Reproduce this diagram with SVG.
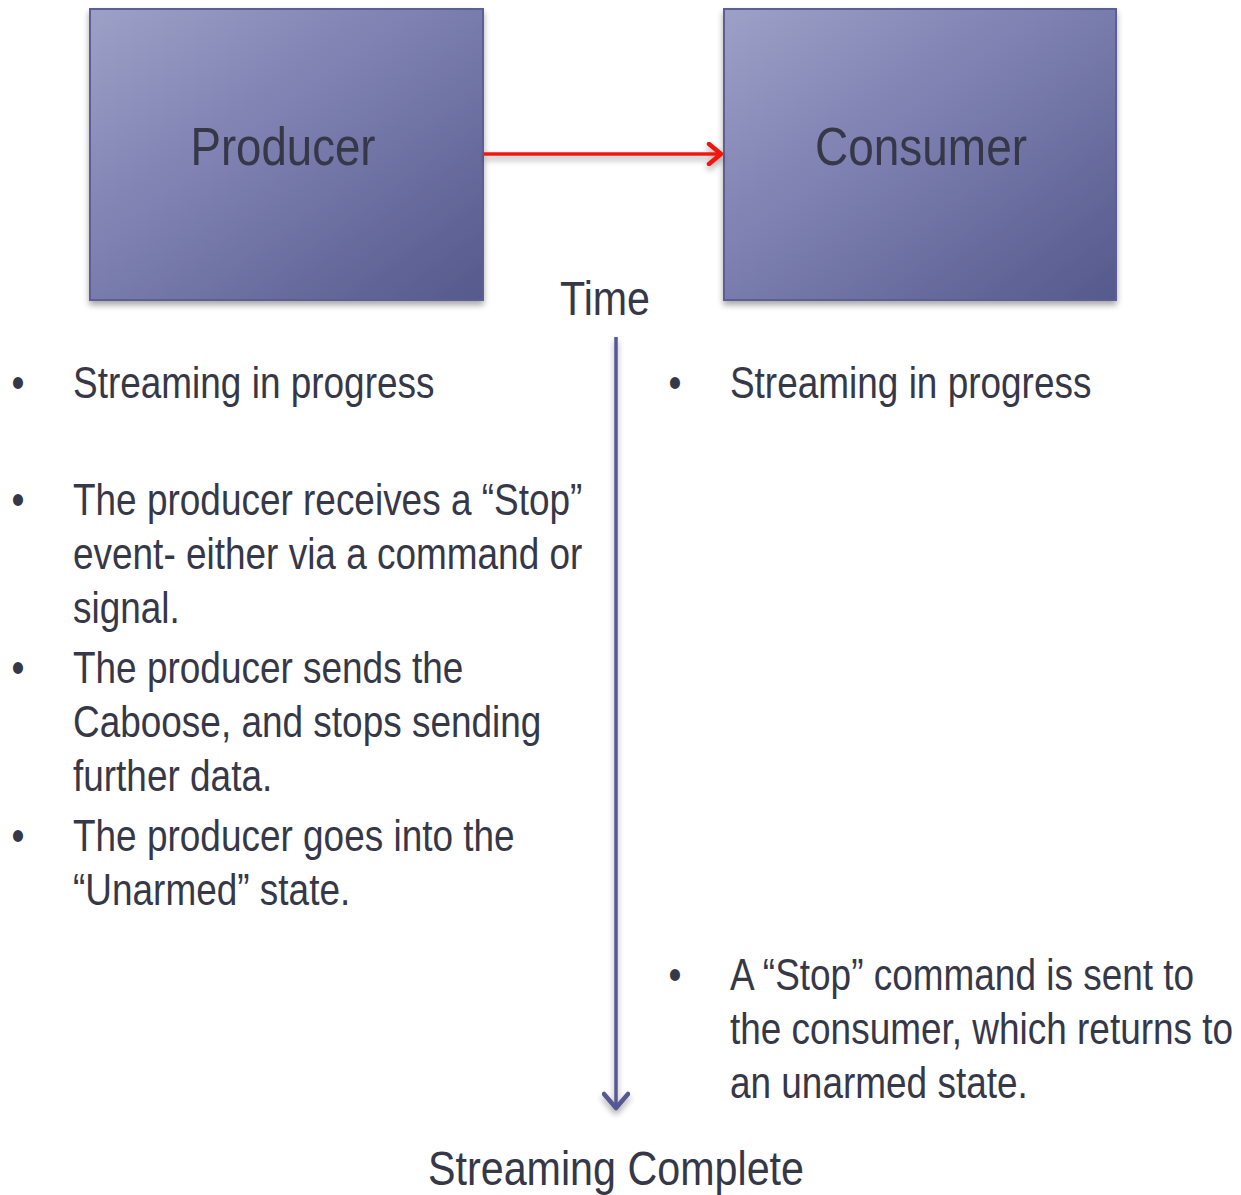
<svg xmlns="http://www.w3.org/2000/svg" width="1241" height="1195" viewBox="0 0 1241 1195">
<defs>
<linearGradient id="boxg" x1="0" y1="0" x2="1" y2="1">
<stop offset="0" stop-color="#9da0c6"/>
<stop offset="0.45" stop-color="#7c7fb0"/>
<stop offset="1" stop-color="#55598b"/>
</linearGradient>
<filter id="sh" filterUnits="userSpaceOnUse" x="0" y="0" width="1241" height="1195">
<feGaussianBlur in="SourceAlpha" stdDeviation="3"/>
<feOffset dx="0" dy="4" result="b"/>
<feComponentTransfer><feFuncA type="linear" slope="0.35"/></feComponentTransfer>
<feMerge><feMergeNode/><feMergeNode in="SourceGraphic"/></feMerge>
</filter>
<marker id="redhead" viewBox="0 0 20 24" refX="17" refY="12" markerWidth="20" markerHeight="24" markerUnits="userSpaceOnUse" orient="auto">
<path d="M5,2 L17,12 L5,22" fill="none" stroke="#f0180e" stroke-width="4.5" stroke-linecap="round" stroke-linejoin="round"/>
</marker>
<marker id="bluehead" viewBox="0 0 22 28" refX="18" refY="14" markerWidth="22" markerHeight="28" markerUnits="userSpaceOnUse" orient="auto">
<path d="M4,2 L18,14 L4,26" fill="none" stroke="#545893" stroke-width="4.5" stroke-linecap="round" stroke-linejoin="round"/>
</marker>
</defs>
<style>
.box{fill:url(#boxg);stroke:#5b5f96;stroke-width:2}
.lbl{font-family:"Liberation Sans",Arial,sans-serif;font-size:53px;fill:#363848;text-anchor:middle}
.t{font-family:"Liberation Sans",Arial,sans-serif;font-size:44px;fill:#363848}
.mid{text-anchor:middle}
</style>
<rect width="1241" height="1195" fill="#ffffff"/>
<g id="producer">
<rect class="box" x="90" y="9" width="393" height="291" filter="url(#sh)"/>
<text class="lbl" x="283" y="165" textLength="185" lengthAdjust="spacingAndGlyphs">Producer</text>
</g>
<g id="consumer">
<rect class="box" x="724" y="9" width="392" height="291" filter="url(#sh)"/>
<text class="lbl" x="921" y="165" textLength="212" lengthAdjust="spacingAndGlyphs">Consumer</text>
</g>
<g id="connectors">
<g filter="url(#sh)">
<line x1="484" y1="154" x2="721" y2="154" stroke="#f0180e" stroke-width="3.5" marker-end="url(#redhead)"/>
</g>
<g filter="url(#sh)">
<line x1="616" y1="337" x2="616" y2="1108" stroke="#545893" stroke-width="3.5" marker-end="url(#bluehead)"/>
</g>
</g>
<g id="time">
<text class="t mid" x="605" y="315" style="font-size:49px" textLength="90" lengthAdjust="spacingAndGlyphs">Time</text>
</g>
<g id="left-notes" transform="scale(0.84,1)">
<text class="t mid" x="21.4" y="398">•</text>
<text class="t" x="86.9" y="398">Streaming in progress</text>
<text class="t mid" x="21.4" y="515">•</text>
<text class="t" x="86.9" y="515">The producer receives a “Stop”</text>
<text class="t" x="86.9" y="569">event- either via a command or</text>
<text class="t" x="86.9" y="623">signal.</text>
<text class="t mid" x="21.4" y="683">•</text>
<text class="t" x="86.9" y="683">The producer sends the</text>
<text class="t" x="86.9" y="737">Caboose, and stops sending</text>
<text class="t" x="86.9" y="791">further data.</text>
<text class="t mid" x="21.4" y="851">•</text>
<text class="t" x="86.9" y="851">The producer goes into the</text>
<text class="t" x="86.9" y="905">“Unarmed” state.</text>
</g>
<g id="right-notes" transform="scale(0.84,1)">
<text class="t mid" x="803.6" y="398">•</text>
<text class="t" x="869" y="398">Streaming in progress</text>
<text class="t mid" x="803.6" y="990">•</text>
<text class="t" x="869" y="990">A “Stop” command is sent to</text>
<text class="t" x="869" y="1044">the consumer, which returns to</text>
<text class="t" x="869" y="1098">an unarmed state.</text>
</g>
<g id="complete">
<text class="t mid" x="616" y="1185" style="font-size:49px" textLength="376" lengthAdjust="spacingAndGlyphs">Streaming Complete</text>
</g>
</svg>
